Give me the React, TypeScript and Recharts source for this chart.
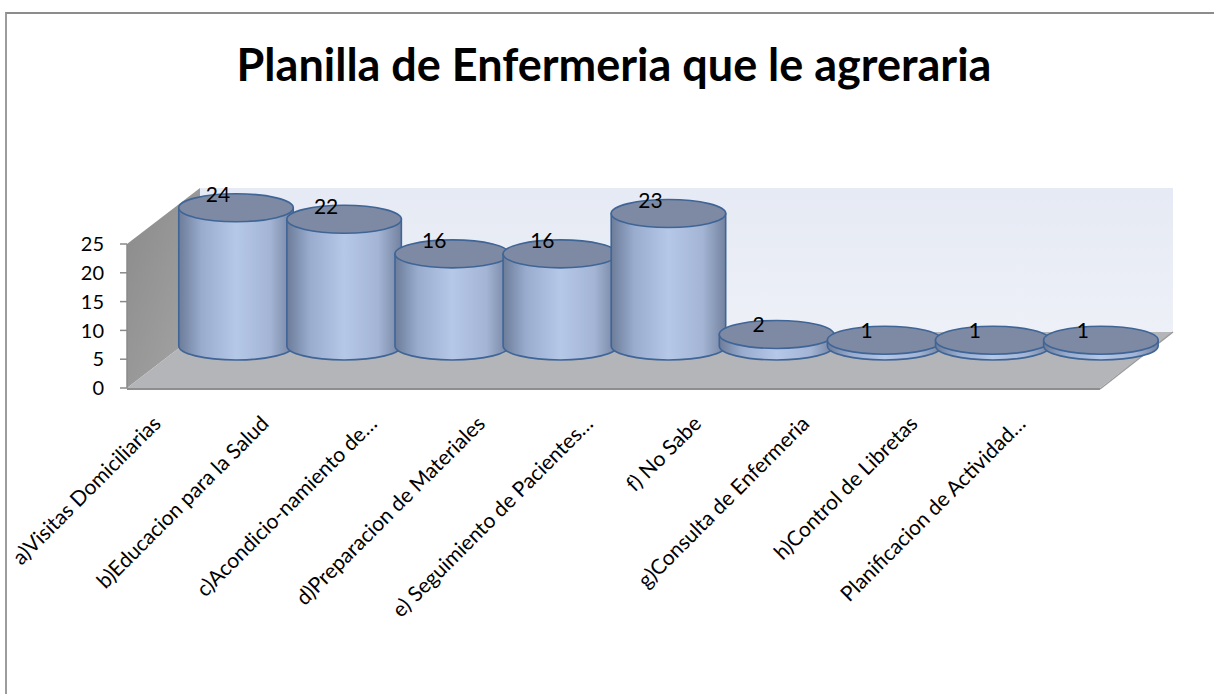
import { BarChart, Bar, XAxis, YAxis, ReferenceArea, LabelList } from 'recharts';

const categories = [
  'a)Visitas Domiciliarias',
  'b)Educacion para la Salud',
  'c)Acondicio-namiento de…',
  'd)Preparacion de Materiales',
  'e) Seguimiento de Pacientes…',
  'f) No Sabe',
  'g)Consulta de Enfermeria',
  'h)Control de Libretas',
  'Planificacion de Actividad…',
];
const values = [24, 22, 16, 16, 23, 2, 1, 1, 1];
const yTicks = [0, 5, 10, 15, 20, 25];

const data = categories.map((name, i) => ({ name, value: values[i] }));

// 3d look: offset of the back wall and of the cylinder axis
const WALL_DX = 73;
const WALL_DY = -56;
const BAR_DX = 55;
const BAR_DY = -42;
const RY = 14;
const FONT = 'Lato, "Open Sans", sans-serif';

function Walls(props: any) {
  const { x, y, width, height } = props;
  const bottom = y + height;
  const right = x + width;
  return (
    <g>
      <defs>
        <linearGradient id="leftWall" x1="0" y1="0" x2="1" y2="1">
          <stop offset="0%" stopColor="#8a8a8a" />
          <stop offset="100%" stopColor="#a6a6a6" />
        </linearGradient>
        <linearGradient id="backWall" x1="0" y1="0" x2="0" y2="1">
          <stop offset="0%" stopColor="#e6eaf4" />
          <stop offset="100%" stopColor="#edf0f7" />
        </linearGradient>
      </defs>
      <rect x={x + WALL_DX} y={y + WALL_DY} width={width} height={height} fill="url(#backWall)" />
      <polygon
        points={`${x},${y} ${x + WALL_DX},${y + WALL_DY} ${x + WALL_DX},${bottom + WALL_DY} ${x},${bottom}`}
        fill="url(#leftWall)"
      />
      <polygon
        points={`${x},${bottom} ${x + WALL_DX},${bottom + WALL_DY} ${right + WALL_DX},${bottom + WALL_DY} ${right},${bottom}`}
        fill="#b3b5b9"
      />
      <line x1={x} y1={bottom + 1} x2={right} y2={bottom + 1} stroke="#8e8e8e" strokeWidth={2} />
      <line x1={right} y1={bottom + 1} x2={right + WALL_DX} y2={bottom + WALL_DY} stroke="#9a9a9a" strokeWidth={1.5} />
    </g>
  );
}

function Cylinder(props: any) {
  const { x, y, width, height } = props;
  const cx = x + width / 2 + BAR_DX;
  const rx = width * 0.53;
  const top = y + BAR_DY;
  const bot = y + height + BAR_DY;
  const body = `M${cx - rx},${top} L${cx - rx},${bot} A${rx},${RY} 0 0 0 ${cx + rx},${bot} L${cx + rx},${top} Z`;
  return (
    <g>
      <path d={body} fill="url(#cylBody)" stroke="#3f6597" strokeWidth={1.6} />
      <ellipse cx={cx} cy={top} rx={rx} ry={RY} fill="#7e8aa3" stroke="#3f6597" strokeWidth={1.6} />
    </g>
  );
}

function ValueLabel(props: any) {
  const { x, y, width, value } = props;
  const cx = x + width / 2 + BAR_DX - 18;
  const off = value < 3 ? 8 : 11;
  return (
    <text x={cx} y={y + BAR_DY - off} textAnchor="middle" dominantBaseline="middle" fontSize={21} fontFamily={FONT} fill="#000">
      {value}
    </text>
  );
}

function CategoryTick(props: any) {
  const { x, y, payload } = props;
  const px = x - 19;
  const py = y + 37;
  return (
    <text
      x={px}
      y={py}
      textAnchor="end"
      transform={`rotate(-45, ${px}, ${py})`}
      fontSize={21}
      fontFamily={FONT}
      fill="#000"
    >
      {payload.value}
    </text>
  );
}

export default function App() {
  return (
    <div style={{ position: 'absolute', left: 0, top: 0, width: 1214, height: 694, background: '#fff', overflow: 'hidden' }}>
      <div
        style={{
          position: 'absolute',
          left: 5,
          top: 12,
          width: 1209,
          height: 682,
          borderTop: '2px solid #8c8c8c',
          borderLeft: '2px solid #9c9c9c',
        }}
      />
      <div
        style={{
          position: 'absolute',
          left: 0,
          top: 37,
          width: 1228,
          textAlign: 'center',
          fontFamily: FONT,
          fontWeight: 700,
          fontSize: 45,
          color: '#000',
        }}
      >
        Planilla de Enfermeria que le agreraria
      </div>
      <svg width={0} height={0} style={{ position: 'absolute' }}>
        <defs>
          <linearGradient id="cylBody" x1="0" y1="0" x2="1" y2="0">
            <stop offset="0%" stopColor="#6c7c99" />
            <stop offset="20%" stopColor="#99acce" />
            <stop offset="50%" stopColor="#b6c8e8" />
            <stop offset="80%" stopColor="#a3b4d4" />
            <stop offset="100%" stopColor="#73829f" />
          </linearGradient>
        </defs>
      </svg>
      <div style={{ position: 'absolute', left: 0, top: 0 }}>
        <BarChart
          width={1214}
          height={694}
          data={data}
          margin={{ top: 244, right: 114, bottom: 276, left: 67 }}
          barCategoryGap={0}
        >
          <ReferenceArea y1={0} y2={25} shape={<Walls />} ifOverflow="visible" zIndex={-100} />
          <XAxis
            dataKey="name"
            height={30}
            interval={0}
            axisLine={false}
            tickLine={false}
            tickSize={0}
            tickMargin={0}
            tick={<CategoryTick />}
          />
          <YAxis
            width={60}
            domain={[0, 25]}
            ticks={yTicks}
            interval={0}
            tickSize={7}
            tickMargin={16}
            axisLine={{ stroke: '#8a8a8a', strokeWidth: 1.5 }}
            tickLine={{ stroke: '#8a8a8a', strokeWidth: 1.5 }}
            tick={{ fontSize: 20, fontFamily: FONT, fill: '#000' }}
          />
          <Bar dataKey="value" shape={<Cylinder />} isAnimationActive={false}>
            <LabelList dataKey="value" content={<ValueLabel />} />
          </Bar>
        </BarChart>
      </div>
    </div>
  );
}
